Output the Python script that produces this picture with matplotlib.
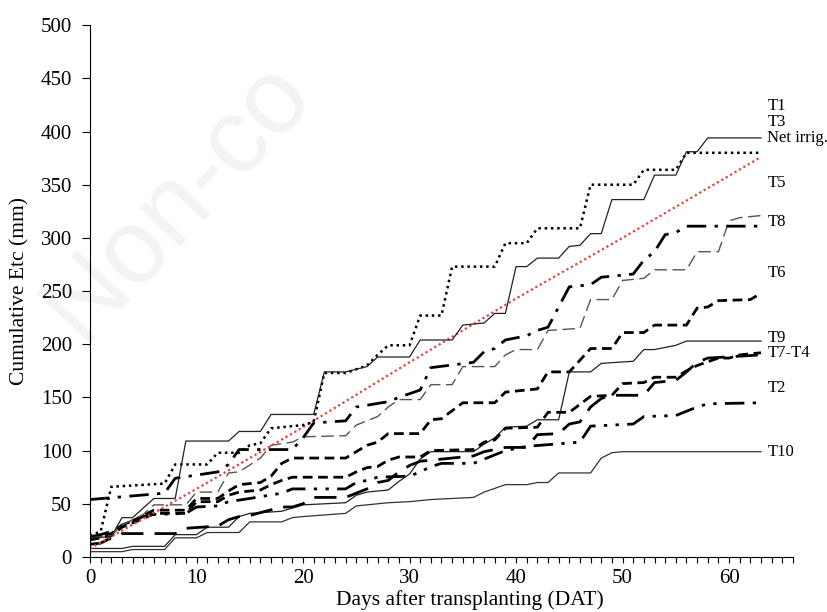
import matplotlib
matplotlib.use('Agg')
import matplotlib.pyplot as plt
from matplotlib.ticker import MultipleLocator

# cumulative ETc (mm) by days after transplanting
t1_days = [0, 2, 3, 4, 6, 8, 9, 13, 14, 16, 17, 21, 22, 24, 26, 27, 30, 31, 34, 35, 37, 38, 39, 40, 41, 42, 44, 45, 46, 47, 48, 49, 52, 53, 55, 56, 57, 58, 63]
t1_vals = [18, 19, 37, 37, 55, 55, 109, 109, 118, 118, 134, 134, 174, 174, 179, 188, 188, 204, 204, 218, 220, 229, 229, 273, 273, 281, 281, 292, 293, 304, 304, 336, 336, 359, 359, 381, 381, 394, 394]

t3_days = [0, 1, 2, 7, 8, 11, 12, 14, 15, 16, 17, 20, 21, 22, 24, 26, 27, 28, 30, 31, 33, 34, 38, 39, 41, 42, 46, 47, 51, 52, 55, 56, 63]
t3_vals = [20, 24, 66, 69, 87, 87, 98, 98, 105, 107, 121, 124, 127, 173, 173, 180, 190, 199, 199, 227, 227, 273, 273, 295, 295, 309, 309, 350, 350, 364, 364, 380, 380]

net_days = [0, 10, 20, 30, 40, 50, 63]
net_vals = [8, 64, 122, 183, 243, 300, 376]

t5_days = [0, 7, 8, 12, 13, 14, 19, 20, 21, 24, 25, 28, 29, 31, 32, 36, 37, 38, 39, 41, 42, 43, 45, 47, 48, 51, 52, 53, 54, 55, 56, 63]
t5_vals = [54, 60, 74, 80, 87, 101, 101, 112, 126, 128, 141, 146, 150, 157, 178, 183, 193, 196, 204, 208, 213, 216, 254, 256, 263, 266, 279, 287, 303, 305, 311, 311]

t8_days = [0, 2, 3, 5, 6, 9, 10, 12, 13, 14, 16, 17, 19, 20, 24, 25, 27, 28, 29, 31, 32, 34, 35, 38, 39, 40, 42, 43, 46, 47, 49, 50, 52, 53, 56, 57, 59, 60, 61, 63]
t8_vals = [18, 20, 30, 40, 49, 49, 61, 61, 79, 80, 93, 105, 108, 113, 114, 124, 132, 141, 148, 148, 162, 162, 179, 179, 190, 195, 195, 213, 215, 242, 242, 260, 262, 270, 270, 287, 287, 316, 319, 321]

t6_days = [0, 2, 3, 4, 6, 9, 10, 12, 13, 14, 16, 17, 18, 19, 24, 25, 26, 27, 28, 31, 32, 33, 35, 38, 39, 42, 43, 45, 47, 49, 50, 52, 53, 56, 57, 58, 59, 62, 63]
t6_vals = [18, 22, 30, 34, 44, 44, 55, 55, 62, 68, 70, 76, 88, 93, 93, 99, 105, 108, 116, 116, 129, 130, 145, 145, 155, 158, 174, 174, 196, 196, 211, 211, 218, 218, 234, 235, 241, 242, 248]

t7_days = [0, 2, 3, 5, 6, 9, 10, 12, 13, 14, 16, 17, 18, 19, 24, 25, 26, 27, 28, 29, 31, 32, 36, 37, 38, 39, 42, 43, 45, 47, 49, 50, 52, 53, 55, 56, 57, 59, 60, 61, 63]
t7_vals = [16, 20, 28, 36, 41, 41, 52, 52, 58, 61, 63, 68, 72, 75, 75, 80, 84, 85, 91, 94, 94, 100, 101, 108, 110, 121, 122, 136, 136, 151, 152, 163, 164, 169, 169, 175, 180, 187, 187, 190, 192]

t4_days = [0, 1, 2, 3, 8, 9, 12, 13, 14, 15, 18, 19, 20, 21, 24, 25, 26, 27, 28, 29, 30, 31, 32, 36, 37, 39, 41, 42, 44, 45, 46, 47, 48, 49, 52, 53, 55, 56, 57, 58, 63]
t4_vals = [12, 13, 18, 22, 22, 27, 29, 35, 38, 39, 47, 47, 50, 56, 56, 60, 64, 70, 72, 80, 86, 90, 91, 95, 99, 103, 103, 115, 116, 125, 127, 141, 149, 152, 152, 164, 166, 174, 183, 187, 190]

t2_days = [0, 1, 2, 3, 5, 6, 9, 10, 12, 13, 15, 18, 19, 24, 25, 26, 27, 30, 31, 32, 33, 36, 37, 38, 39, 41, 46, 47, 51, 52, 55, 57, 58, 63]
t2_vals = [19, 21, 24, 30, 38, 40, 41, 47, 48, 52, 55, 60, 64, 64, 70, 72, 75, 76, 80, 85, 88, 88, 92, 96, 100, 104, 108, 123, 125, 132, 133, 141, 144, 145]

t9_days = [0, 3, 4, 7, 8, 10, 11, 13, 14, 15, 18, 20, 24, 25, 26, 28, 29, 30, 31, 32, 36, 37, 38, 39, 41, 42, 44, 45, 47, 48, 51, 52, 53, 54, 55, 56, 63]
t9_vals = [8, 8, 10, 10, 21, 21, 28, 28, 38, 41, 43, 49, 51, 58, 61, 63, 71, 78, 92, 99, 99, 106, 112, 122, 123, 129, 129, 174, 174, 182, 184, 195, 195, 197, 199, 203, 203]

t10_days = [0, 3, 4, 7, 8, 10, 11, 14, 15, 18, 19, 20, 24, 25, 28, 30, 32, 36, 37, 39, 41, 42, 43, 44, 47, 48, 49, 50, 63]
t10_vals = [5, 5, 7, 7, 18, 18, 23, 23, 33, 33, 37, 38, 41, 48, 51, 52, 54, 56, 61, 68, 68, 70, 70, 79, 79, 93, 98, 99, 99]

label_text = ['T1', 'T3', 'Net irrig.', 'T5', 'T8', 'T6', 'T9', 'T7-T4', 'T2', 'T10']
label_y = [424, 409, 394, 352, 315, 267, 206, 192, 159, 99]

plt.rcParams['font.family'] = ['Liberation Serif', 'DejaVu Serif']

fig = plt.figure(figsize=(8.28, 6.12), dpi=100)
fig.text(0.03, 0.45, 'Non-co', rotation=47, fontsize=76, color='#f3f3f3',
         family='Liberation Sans', zorder=-10)
ax = fig.add_axes([0.1087, 0.0899, 0.849, 0.869])
ax.patch.set_alpha(0)

ax.plot(t10_days, t10_vals, color='#333333', lw=0.9, ls='-')
ax.plot(t9_days, t9_vals, color='#222222', lw=0.9, ls='-')
ax.plot(t2_days, t2_vals, color='black', lw=2.0, ls=(0, (7, 3, 1.2, 3, 1.2, 3)))
ax.plot(t4_days, t4_vals, color='black', lw=2.0, ls=(0, (8, 4)))
ax.plot(t7_days, t7_vals, color='black', lw=2.0, ls=(0, (3.5, 2)))
ax.plot(t6_days, t6_vals, color='black', lw=2.0, ls=(0, (3.5, 2)))
ax.plot(t8_days, t8_vals, color='#555555', lw=1.0, ls=(0, (9, 4)))
ax.plot(t5_days, t5_vals, color='black', lw=2.0, ls=(0, (7, 3, 1.2, 3)))
ax.plot(net_days, net_vals, color='#e8413c', lw=1.6, ls=(0, (1, 1.3)))
ax.plot(t3_days, t3_vals, color='black', lw=1.8, ls=(0, (1, 1.5)))
ax.plot(t1_days, t1_vals, color='#222222', lw=0.9, ls='-')

for txt, y in zip(label_text, label_y):
    ax.text(63.6, y, txt, fontsize=12, va='center', ha='left')

ax.set_xlim(0, 66)
ax.set_ylim(0, 500)
ax.xaxis.set_major_locator(MultipleLocator(10))
ax.xaxis.set_minor_locator(MultipleLocator(1))
ax.yaxis.set_major_locator(MultipleLocator(50))
ax.tick_params(axis='both', which='both', direction='out', width=0.8, labelsize=15)
ax.tick_params(axis='x', which='both', length=4, pad=5)
ax.tick_params(axis='y', which='both', length=6, pad=7)

for s in ['top', 'right']:
    ax.spines[s].set_visible(False)

ax.set_xlabel('Days after transplanting (DAT)', fontsize=15.5)
ax.xaxis.set_label_coords(0.54, -0.062)
ax.set_ylabel('Cumulative Etc (mm)', fontsize=15.5)
ax.yaxis.set_label_coords(-0.086, 0.5)

fig.savefig('out.png', dpi=100)
